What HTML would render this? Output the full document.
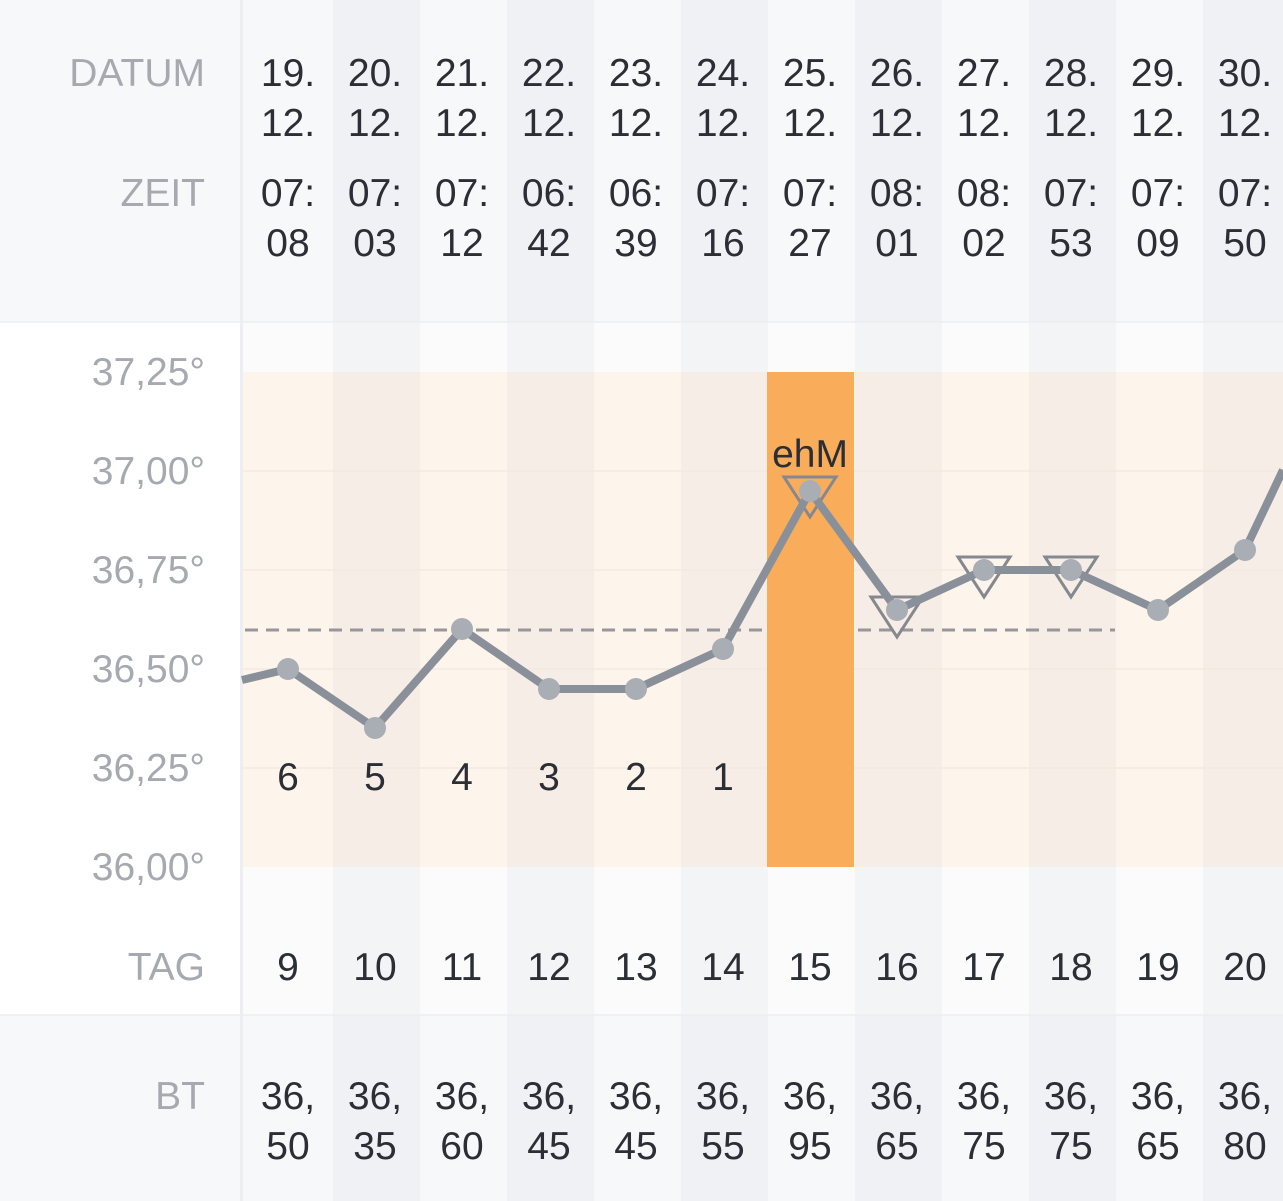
<!DOCTYPE html>
<html><head><meta charset="utf-8"><style>
html,body{margin:0;padding:0;background:#fff;}
svg{display:block;font-family:"Liberation Sans",sans-serif;}
.t{fill:#2b2e35;font-size:39px;text-anchor:middle;}
.l{fill:#a6aab0;font-size:39px;text-anchor:end;}
</style></head><body>
<svg width="1283" height="1201" viewBox="0 0 1283 1201" xmlns="http://www.w3.org/2000/svg">
<rect x="0" y="0" width="1283" height="322" fill="#f7f8fa"/>
<rect x="0" y="1015" width="1283" height="186" fill="#f7f8fa"/>
<g fill="#f0f1f4">
<rect x="333" y="0" width="87" height="322"/><rect x="507" y="0" width="87" height="322"/><rect x="681" y="0" width="87" height="322"/><rect x="855" y="0" width="87" height="322"/><rect x="1029" y="0" width="87" height="322"/><rect x="1203" y="0" width="87" height="322"/>
<rect x="333" y="1015" width="87" height="186"/><rect x="507" y="1015" width="87" height="186"/><rect x="681" y="1015" width="87" height="186"/><rect x="855" y="1015" width="87" height="186"/><rect x="1029" y="1015" width="87" height="186"/><rect x="1203" y="1015" width="87" height="186"/>
</g>
<rect x="242" y="322" width="1041" height="693" fill="#fbfbfc"/>
<g fill="#f3f4f6">
<rect x="333" y="322" width="87" height="693"/><rect x="507" y="322" width="87" height="693"/><rect x="681" y="322" width="87" height="693"/><rect x="855" y="322" width="87" height="693"/><rect x="1029" y="322" width="87" height="693"/><rect x="1203" y="322" width="87" height="693"/>
</g>
<rect x="242" y="372" width="1041" height="495" fill="#fdf4eb"/>
<g fill="#f6ede6">
<rect x="333" y="372" width="87" height="495"/><rect x="507" y="372" width="87" height="495"/><rect x="681" y="372" width="87" height="495"/><rect x="855" y="372" width="87" height="495"/><rect x="1029" y="372" width="87" height="495"/><rect x="1203" y="372" width="87" height="495"/>
</g>
<g stroke="#f3e9e1" stroke-width="1.5">
<line x1="242" y1="471" x2="1283" y2="471"/><line x1="242" y1="570" x2="1283" y2="570"/><line x1="242" y1="669" x2="1283" y2="669"/><line x1="242" y1="768" x2="1283" y2="768"/>
</g>
<rect x="767" y="372" width="87" height="495" fill="#f9ad5b"/>
<line x1="0" y1="322" x2="1283" y2="322" stroke="#eceef1" stroke-width="1.5"/>
<line x1="0" y1="1015" x2="1283" y2="1015" stroke="#eceef1" stroke-width="1.5"/>
<rect x="240" y="0" width="3" height="1201" fill="#eceef1"/>
<g stroke="#95979c" stroke-width="3" stroke-dasharray="13,8">
<line x1="245" y1="630" x2="762" y2="630"/><line x1="858" y1="630" x2="1115" y2="630"/>
</g>
<g fill="none" stroke="#85898f" stroke-width="3">
<polygon points="784,477 836,477 810,517"/>
<polygon points="871,597 923,597 897,637"/>
<polygon points="958,557 1010,557 984,597"/>
<polygon points="1045,557 1097,557 1071,597"/>
</g>
<polyline fill="none" stroke="#8a909a" stroke-width="8" stroke-linejoin="round" points="242,680 288,669 375,728 462,629 549,689 636,689 723,649 810,491 897,610 984,570 1071,570 1158,610 1245,550 1283,470"/>
<g fill="#a9adb4">
<circle cx="288" cy="669" r="11"/><circle cx="375" cy="728" r="11"/><circle cx="462" cy="629" r="11"/><circle cx="549" cy="689" r="11"/><circle cx="636" cy="689" r="11"/><circle cx="723" cy="649" r="11"/><circle cx="810" cy="491" r="11"/><circle cx="897" cy="610" r="11"/><circle cx="984" cy="570" r="11"/><circle cx="1071" cy="570" r="11"/><circle cx="1158" cy="610" r="11"/><circle cx="1245" cy="550" r="11"/>
</g>
<text class="t" x="810" y="467">ehM</text>
<text class="t" x="288" y="790">6</text><text class="t" x="375" y="790">5</text><text class="t" x="462" y="790">4</text><text class="t" x="549" y="790">3</text><text class="t" x="636" y="790">2</text><text class="t" x="723" y="790">1</text>
<text class="l" x="205" y="86">DATUM</text>
<text class="l" x="205" y="206">ZEIT</text>
<text class="l" x="205" y="385">37,25°</text>
<text class="l" x="205" y="484">37,00°</text>
<text class="l" x="205" y="583">36,75°</text>
<text class="l" x="205" y="682">36,50°</text>
<text class="l" x="205" y="781">36,25°</text>
<text class="l" x="205" y="880">36,00°</text>
<text class="l" x="205" y="980">TAG</text>
<text class="l" x="205" y="1109">BT</text>
<text class="t" x="288" y="86">19.</text><text class="t" x="375" y="86">20.</text><text class="t" x="462" y="86">21.</text><text class="t" x="549" y="86">22.</text><text class="t" x="636" y="86">23.</text><text class="t" x="723" y="86">24.</text><text class="t" x="810" y="86">25.</text><text class="t" x="897" y="86">26.</text><text class="t" x="984" y="86">27.</text><text class="t" x="1071" y="86">28.</text><text class="t" x="1158" y="86">29.</text><text class="t" x="1245" y="86">30.</text>
<text class="t" x="288" y="136">12.</text><text class="t" x="375" y="136">12.</text><text class="t" x="462" y="136">12.</text><text class="t" x="549" y="136">12.</text><text class="t" x="636" y="136">12.</text><text class="t" x="723" y="136">12.</text><text class="t" x="810" y="136">12.</text><text class="t" x="897" y="136">12.</text><text class="t" x="984" y="136">12.</text><text class="t" x="1071" y="136">12.</text><text class="t" x="1158" y="136">12.</text><text class="t" x="1245" y="136">12.</text>
<text class="t" x="288" y="206">07:</text><text class="t" x="375" y="206">07:</text><text class="t" x="462" y="206">07:</text><text class="t" x="549" y="206">06:</text><text class="t" x="636" y="206">06:</text><text class="t" x="723" y="206">07:</text><text class="t" x="810" y="206">07:</text><text class="t" x="897" y="206">08:</text><text class="t" x="984" y="206">08:</text><text class="t" x="1071" y="206">07:</text><text class="t" x="1158" y="206">07:</text><text class="t" x="1245" y="206">07:</text>
<text class="t" x="288" y="256">08</text><text class="t" x="375" y="256">03</text><text class="t" x="462" y="256">12</text><text class="t" x="549" y="256">42</text><text class="t" x="636" y="256">39</text><text class="t" x="723" y="256">16</text><text class="t" x="810" y="256">27</text><text class="t" x="897" y="256">01</text><text class="t" x="984" y="256">02</text><text class="t" x="1071" y="256">53</text><text class="t" x="1158" y="256">09</text><text class="t" x="1245" y="256">50</text>
<text class="t" x="288" y="980">9</text><text class="t" x="375" y="980">10</text><text class="t" x="462" y="980">11</text><text class="t" x="549" y="980">12</text><text class="t" x="636" y="980">13</text><text class="t" x="723" y="980">14</text><text class="t" x="810" y="980">15</text><text class="t" x="897" y="980">16</text><text class="t" x="984" y="980">17</text><text class="t" x="1071" y="980">18</text><text class="t" x="1158" y="980">19</text><text class="t" x="1245" y="980">20</text>
<text class="t" x="288" y="1109">36,</text><text class="t" x="375" y="1109">36,</text><text class="t" x="462" y="1109">36,</text><text class="t" x="549" y="1109">36,</text><text class="t" x="636" y="1109">36,</text><text class="t" x="723" y="1109">36,</text><text class="t" x="810" y="1109">36,</text><text class="t" x="897" y="1109">36,</text><text class="t" x="984" y="1109">36,</text><text class="t" x="1071" y="1109">36,</text><text class="t" x="1158" y="1109">36,</text><text class="t" x="1245" y="1109">36,</text>
<text class="t" x="288" y="1159">50</text><text class="t" x="375" y="1159">35</text><text class="t" x="462" y="1159">60</text><text class="t" x="549" y="1159">45</text><text class="t" x="636" y="1159">45</text><text class="t" x="723" y="1159">55</text><text class="t" x="810" y="1159">95</text><text class="t" x="897" y="1159">65</text><text class="t" x="984" y="1159">75</text><text class="t" x="1071" y="1159">75</text><text class="t" x="1158" y="1159">65</text><text class="t" x="1245" y="1159">80</text>
</svg>
</body></html>
